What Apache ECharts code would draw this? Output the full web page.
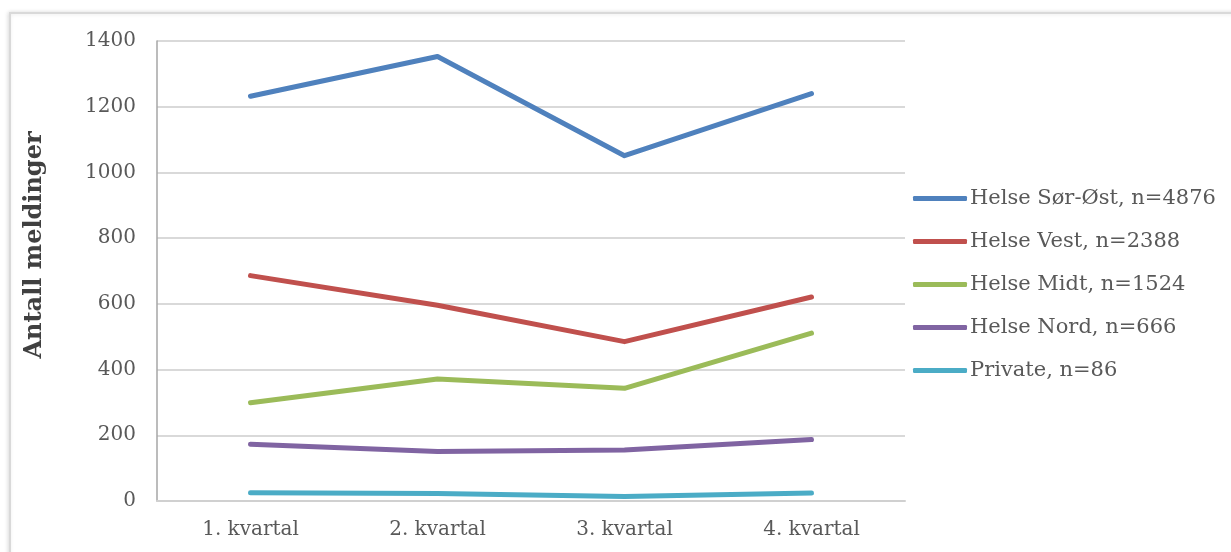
<!DOCTYPE html>
<html>
<head>
<meta charset="utf-8">
<script src="https://cdn.jsdelivr.net/npm/echarts@6/dist/echarts.min.js"></script>
<style>
html,body{margin:0;padding:0;background:#fff;}
#chart{width:1231px;height:552px;}
</style>
</head>
<body>
<div id="chart"></div>
<script>
const categories = ['1. kvartal', '2. kvartal', '3. kvartal', '4. kvartal'];
const seriesNames = ['Helse Sør-Øst, n=4876', 'Helse Vest, n=2388', 'Helse Midt, n=1524', 'Helse Nord, n=666', 'Private, n=86'];
const helseSorOst = [1232, 1353, 1051, 1240];
const helseVest = [686, 596, 485, 621];
const helseMidt = [299, 371, 343, 511];
const helseNord = [173, 151, 155, 187];
const privat = [25, 23, 14, 24];
const yTicks = { min: 0, max: 1400, interval: 200 };
const yTitle = 'Antall meldinger';
const colors = ['#4F81BD', '#C0504D', '#9BBB59', '#8064A2', '#4BACC6'];
const allData = [helseSorOst, helseVest, helseMidt, helseNord, privat];

const font = "'DejaVu Serif', 'Liberation Serif', serif";
const chart = echarts.init(document.getElementById('chart'), null, { renderer: 'canvas' });
chart.setOption({
  animation: false,
  backgroundColor: '#fff',
  color: colors,
  graphic: [{
    type: 'rect',
    shape: { x: 10, y: 13, width: 1400, height: 700 },
    style: { fill: '#fff', stroke: '#d9d9d9', lineWidth: 2, shadowBlur: 4, shadowColor: 'rgba(0,0,0,0.12)', shadowOffsetX: -1, shadowOffsetY: 0 },
    z: -10, silent: true
  }, {
    type: 'text',
    x: 35, y: 245,
    rotation: Math.PI / 2,
    style: { text: yTitle, fontFamily: font, fontSize: 24, fontWeight: 'bold', fill: '#404040', align: 'center', verticalAlign: 'middle' },
    z: 5, silent: true
  }],
  grid: { left: 157, right: 326, top: 41, bottom: 51, containLabel: false },
  legend: {
    orient: 'vertical',
    left: 913,
    top: 188,
    padding: 0,
    itemWidth: 54,
    itemHeight: 5,
    itemGap: 22,
    icon: 'roundRect',
    data: seriesNames,
    textStyle: { fontFamily: font, fontSize: 21, color: '#595959', padding: [0, 0, 0, -2] }
  },
  xAxis: {
    type: 'category',
    data: categories,
    boundaryGap: true,
    axisLine: { show: true, lineStyle: { color: '#d0d0d0', width: 2 } },
    axisTick: { show: false },
    axisLabel: { fontFamily: font, fontSize: 20, color: '#595959', margin: 19 }
  },
  yAxis: {
    type: 'value',
    min: yTicks.min, max: yTicks.max, interval: yTicks.interval,
    axisLine: { show: true, lineStyle: { color: '#a6a6a6', width: 1.5 } },
    axisTick: { show: false },
    splitLine: { lineStyle: { color: '#d9d9d9', width: 2 } },
    axisLabel: { fontFamily: font, fontSize: 20, color: '#595959', margin: 21, formatter: v => String(v) }
  },
  series: seriesNames.map((n, i) => ({
    name: n,
    type: 'line',
    data: allData[i],
    symbol: 'none',
    lineStyle: { width: 5, cap: 'round', join: 'round', color: colors[i] },
    itemStyle: { color: colors[i] },
    z: 10 - i
  }))
});
</script>
</body>
</html>
